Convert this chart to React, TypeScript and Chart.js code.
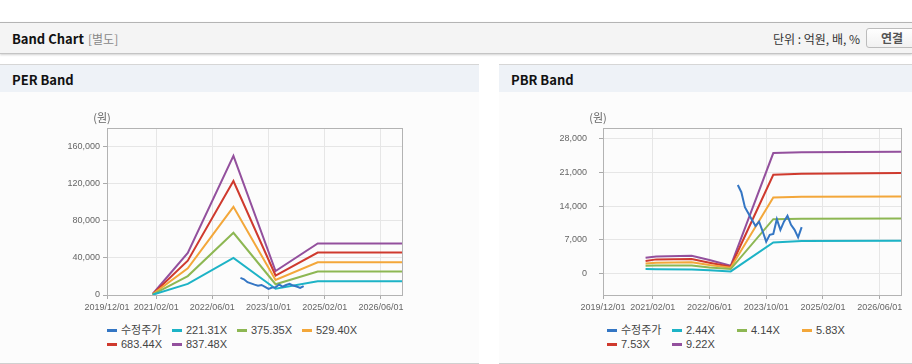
import React, { useEffect, useRef } from "react";
import { Chart, registerables } from "chart.js";

Chart.register(...registerables);

// ---------------- data ----------------
const xTickDates = ["2019/12/01", "2021/02/01", "2022/06/01", "2023/10/01", "2025/02/01", "2026/06/01"];
const xAxisStart = "2019/12";
const xAxisEnd = "2026/12";

const priceLabel = "수정주가";
const priceDates = [
  "2023/02", "2023/03", "2023/04", "2023/05", "2023/06", "2023/07", "2023/08", "2023/09", "2023/10", "2023/11",
  "2023/12", "2024/01", "2024/02", "2024/03", "2024/04", "2024/05", "2024/06", "2024/07", "2024/08",
];
const priceValues = [
  18400, 16900, 13800, 12500, 11150, 9900, 10800, 8800, 6650, 8050,
  8250, 11300, 9100, 10800, 12000, 10150, 9100, 7550, 9650,
];

const perBandLabels = ["221.31X", "375.35X", "529.40X", "683.44X", "837.48X"];
const perBandDates = ["2021/01", "2021/11", "2022/12", "2023/12", "2024/12", "2026/12"];
const perBand1 = [300, 12000, 40000, 6800, 14700, 14700];
const perBand2 = [500, 20400, 67000, 11600, 25200, 25200];
const perBand3 = [700, 28700, 95000, 16300, 35200, 35200];
const perBand4 = [900, 37000, 122800, 21000, 45700, 45700];
const perBand5 = [1100, 45400, 149900, 25800, 55500, 55500];
const perYTicks = [0, 40000, 80000, 120000, 160000];
const perYMin = 0;
const perYMax = 180000;

const pbrBandLabels = ["2.44X", "4.14X", "5.83X", "7.53X", "9.22X"];
const pbrBandDates = ["2020/12", "2021/03", "2022/01", "2022/06", "2022/12", "2023/12", "2024/08", "2026/12"];
const pbrBand1 = [970, 960, 900, 750, 480, 6500, 6790, 6860];
const pbrBand2 = [1660, 1730, 1700, 1280, 970, 11300, 11400, 11430];
const pbrBand3 = [2150, 2290, 2400, 1800, 1250, 15800, 15950, 16000];
const pbrBand4 = [2630, 2980, 3050, 2290, 1450, 20500, 20700, 20860];
const pbrBand5 = [3330, 3600, 3740, 2840, 1660, 25000, 25200, 25300];
const pbrYTicks = [0, 7000, 14000, 21000, 28000];
const pbrYMin = -4400;
const pbrYMax = 30200;

const yUnitLabel = "(원)";

// ---------------- styles ----------------
const seriesColors = ["#3476c4", "#1db3c6", "#8db753", "#f3a73a", "#cf3a2e", "#93509d"];
const KR = "'Noto Sans CJK KR', 'Liberation Sans', sans-serif";
const TICK_FONT = "'Liberation Sans', 'Noto Sans CJK KR', sans-serif";

const toMonth = (d: string) => {
  const [y, m] = d.split("/").map(Number);
  return (y - 2019) * 12 + m - 12;
};

const fmt = (v: number) => Number(v).toLocaleString("en-US");

const framePlugin = {
  id: "frame",
  beforeDatasetsDraw(chart: any) {
    const { ctx, chartArea: a } = chart;
    ctx.save();
    ctx.strokeStyle = "#b3b3b3";
    ctx.lineWidth = 1;
    const l = Math.round(a.left) + 0.5;
    const t = Math.round(a.top) + 0.5;
    ctx.strokeRect(l, t, Math.round(a.right) - Math.round(a.left), Math.round(a.bottom) - Math.round(a.top));
    ctx.font = "11px " + KR;
    ctx.fillStyle = "#666";
    ctx.textAlign = "center";
    ctx.textBaseline = "middle";
    ctx.fillText(yUnitLabel, a.left - 5, a.top - 10);
    ctx.restore();
  },
};

type Series = { label: string; dates: string[]; values: number[]; color: string };

function buildSeries(bandLabels: string[], bandDates: string[], bands: number[][]): Series[] {
  const list: Series[] = [{ label: priceLabel, dates: priceDates, values: priceValues, color: seriesColors[0] }];
  bands.forEach((vals, i) =>
    list.push({ label: bandLabels[i], dates: bandDates, values: vals, color: seriesColors[i + 1] })
  );
  return list;
}

function BandCanvas(props: {
  left: number; top: number; width: number; height: number; yAxisWidth: number;
  series: Series[]; yMin: number; yMax: number; yTicks: number[]; yPad: number;
}) {
  const ref = useRef<HTMLCanvasElement>(null);
  useEffect(() => {
    const xTickMonths = xTickDates.map((d) => toMonth(d.slice(0, 7)));
    const chart = new Chart(ref.current as HTMLCanvasElement, {
      type: "line",
      data: {
        datasets: props.series.map((s) => ({
          label: s.label,
          data: s.dates.map((d, i) => ({ x: toMonth(d), y: s.values[i] })),
          borderColor: s.color,
          backgroundColor: s.color,
          borderWidth: 2,
          pointRadius: 0,
          tension: 0,
          fill: false,
        })),
      },
      options: {
        responsive: false,
        animation: false,
        events: [],
        layout: { padding: { top: 28, right: 8, left: 0, bottom: 0 } },
        plugins: { legend: { display: false }, tooltip: { enabled: false } },
        scales: {
          x: {
            type: "linear",
            min: toMonth(xAxisStart),
            max: toMonth(xAxisEnd),
            border: { display: false },
            grid: { color: "#e6e6e6", tickColor: "#aaa", tickLength: 4 },
            ticks: {
              autoSkip: false,
              maxRotation: 0,
              minRotation: 0,
              padding: 3,
              color: "#666",
              font: { family: TICK_FONT, size: 9 },
              callback: (v: any) => {
                const idx = xTickMonths.indexOf(Number(v));
                return idx >= 0 ? xTickDates[idx] : "";
              },
            },
            afterBuildTicks: (s: any) => {
              s.ticks = xTickMonths.map((v) => ({ value: v }));
            },
            afterFit: (s: any) => {
              s.height = 20;
            },
          } as any,
          y: {
            type: "linear",
            min: props.yMin,
            max: props.yMax,
            border: { display: false },
            grid: { color: "#e6e6e6", tickColor: "#aaa", tickLength: 4 },
            ticks: {
              padding: props.yPad,
              color: "#666",
              font: { family: TICK_FONT, size: 9 },
              callback: (v: any) => fmt(v),
            },
            afterBuildTicks: (s: any) => {
              s.ticks = props.yTicks.map((v) => ({ value: v }));
            },
            afterFit: (s: any) => {
              s.width = props.yAxisWidth;
            },
          } as any,
        },
      },
      plugins: [framePlugin],
    });
    return () => chart.destroy();
  }, []);
  return (
    <canvas
      ref={ref}
      width={props.width}
      height={props.height}
      style={{ position: "absolute", left: props.left, top: props.top, width: props.width, height: props.height }}
    />
  );
}

function Legend({ left, top, series }: { left: number; top: number; series: Series[] }) {
  return (
    <div style={{ position: "absolute", left, top, width: 270, display: "flex", flexWrap: "wrap" }}>
      {series.map((s) => (
        <div
          key={s.label}
          style={{ width: 65, height: 13.4, display: "flex", alignItems: "center", whiteSpace: "nowrap" }}
        >
          <span style={{ width: 10, height: 3, background: s.color, marginRight: 4, flex: "none" }} />
          <span style={{ font: "11px " + TICK_FONT, lineHeight: "13px", color: "#444" }}>{s.label}</span>
        </div>
      ))}
    </div>
  );
}

function Panel({ left, width, title }: { left: number; width: number; title: string }) {
  return (
    <>
      <div
        style={{
          position: "absolute", left, top: 64, width, height: 298,
          borderTop: "1px solid #d6d6d6", borderBottom: "1px solid #d0d0d0", background: "#fcfcfc",
        }}
      />
      <div
        style={{
          position: "absolute", left, top: 65, width, height: 27, background: "#eef2f7",
          font: "bold 13px " + KR, lineHeight: "30px", color: "#111", paddingLeft: 12, boxSizing: "border-box",
        }}
      >
        {title}
      </div>
    </>
  );
}

export default function App() {
  const perSeries = buildSeries(perBandLabels, perBandDates, [perBand1, perBand2, perBand3, perBand4, perBand5]);
  const pbrSeries = buildSeries(pbrBandLabels, pbrBandDates, [pbrBand1, pbrBand2, pbrBand3, pbrBand4, pbrBand5]);
  return (
    <div
      style={{
        position: "absolute", left: 0, top: 0, width: 912, height: 364, overflow: "hidden",
        background: "#fff", fontFamily: KR,
      }}
    >
      {/* top header */}
      <div
        style={{
          position: "absolute", left: 0, top: 22, width: 912, height: 30, background: "#f4f4f4",
          borderTop: "1px solid #b4b4b4", borderBottom: "1px solid #c4c4c4",
          boxShadow: "0 1px 2px rgba(0,0,0,0.18)",
        }}
      >
        <span style={{ position: "absolute", left: 12, top: 0, font: "bold 13px " + KR, lineHeight: "31px", color: "#111" }}>
          Band Chart
        </span>
        <span style={{ position: "absolute", left: 88, top: 0, font: "12px " + KR, lineHeight: "31px", color: "#888" }}>
          [별도]
        </span>
        <span
          style={{
            position: "absolute", right: 52, top: 0, font: "12px " + KR, lineHeight: "31px", color: "#333",
            whiteSpace: "nowrap",
          }}
        >
          단위 : 억원, 배, %
        </span>
        <div
          style={{
            position: "absolute", left: 866, top: 5, width: 50, height: 18, border: "1px solid #bcbcbc",
            borderRadius: 3, background: "linear-gradient(#ffffff, #f1f1f1)", textAlign: "center",
            font: "bold 12px " + KR, lineHeight: "18px", color: "#555",
          }}
        >
          연결
        </div>
      </div>

      <Panel left={0} width={479} title="PER Band" />
      <Panel left={499} width={480} title="PBR Band" />

      <BandCanvas
        left={40} top={100} width={370} height={215} yAxisWidth={67}
        series={perSeries} yMin={perYMin} yMax={perYMax} yTicks={perYTicks} yPad={3}
      />
      <Legend left={107} top={324} series={perSeries} />

      <BandCanvas
        left={530} top={100} width={379} height={215} yAxisWidth={73}
        series={pbrSeries} yMin={pbrYMin} yMax={pbrYMax} yTicks={pbrYTicks} yPad={12}
      />
      <Legend left={607} top={324} series={pbrSeries} />
    </div>
  );
}
